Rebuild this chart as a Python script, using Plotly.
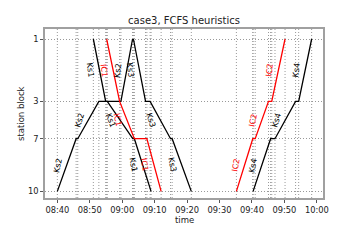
import math
import pandas as pd
import plotly.graph_objects as go

# ---------------- data ----------------
station_blocks = [1, 3, 7, 10]
station_labels = ["1", "3", "7", "10"]
station_pos = [0.0, 6.24, 9.97, 15.24]   # relative distance along the line

x_tick_labels = ["08:40", "08:50", "09:00", "09:10", "09:20", "09:30", "09:40", "09:50", "10:00"]

# times in minutes after 08:00, with the station block visited at that time
ks1_t = [51.1, 54.9, 55.4, 63.25, 63.75, 68.9]
ks1_s = [1, 3, 3, 7, 7, 10]
ks2_t = [40.0, 45.8, 46.3, 52.8, 59.6, 63.2]
ks2_s = [10, 7, 7, 3, 3, 1]
ks3_t = [63.45, 67.2, 68.6, 74.9, 75.4, 81.3]
ks3_s = [1, 3, 3, 7, 7, 10]
ks4_t = [100.35, 105.75, 107.1, 113.45, 114.4, 118.4]
ks4_s = [10, 7, 7, 3, 3, 1]
ic1_t = [55.2, 59.2, 63.75, 67.6, 72.0]
ic1_s = [1, 3, 7, 7, 10]
ic2_t = [95.2, 100.25, 101.0, 105.1, 106.1, 110.2]
ic2_s = [10, 7, 7, 3, 3, 1]

trains = [
    ("Ks2", ks2_t, ks2_s, "black"),
    ("Ks1", ks1_t, ks1_s, "black"),
    ("IC1", ic1_t, ic1_s, "red"),
    ("Ks3", ks3_t, ks3_s, "black"),
    ("IC2", ic2_t, ic2_s, "red"),
    ("Ks4", ks4_t, ks4_s, "black"),
]

# ---------------- layout geometry ----------------
W, H = 360, 240
ml, mr, mt, mb = 45, 37, 29, 42
pw, ph = W - ml - mr, H - mt - mb
x_min, x_max = 36.2, 121.9          # minutes after 08:00
y_top, y_bot = -1.0, 15.9

base = pd.Timestamp("2021-01-01 08:00:00")
def to_dt(m):
    return base + pd.Timedelta(minutes=m)

pos_of = dict(zip(station_blocks, station_pos))
FONT = "DejaVu Sans"
DOT = "1px,2px"

fig = go.Figure()

# vertical dotted lines at every event time
event_times = sorted(set(t for _, ts, _, _ in trains for t in ts))
shapes = []
for t in event_times:
    shapes.append(dict(type="line", xref="x", yref="paper", x0=to_dt(t), x1=to_dt(t),
                       y0=0, y1=1, layer="below",
                       line=dict(color="#999999", width=1, dash=DOT)))

annotations = []
for name, ts, ss, col in trains:
    ys = [pos_of[s] for s in ss]
    fig.add_trace(go.Scatter(x=[to_dt(t) for t in ts], y=ys, mode="lines",
                             line=dict(color=col, width=1.3), showlegend=False,
                             hoverinfo="skip"))
    for i in range(len(ts) - 1):
        if ss[i] == ss[i + 1]:
            continue
        tm = (ts[i] + ts[i + 1]) / 2
        ym = (ys[i] + ys[i + 1]) / 2
        dx = (ts[i + 1] - ts[i]) * pw / (x_max - x_min)
        dy = (ys[i + 1] - ys[i]) * ph / (y_bot - y_top)
        ang = math.degrees(math.atan2(dy, dx))
        ang = math.copysign(abs(ang) + (90 - abs(ang)) * 0.4, ang)
        annotations.append(dict(x=to_dt(tm), y=ym, xref="x", yref="y", text=name,
                                showarrow=False, textangle=ang, xshift=-9,
                                font=dict(family=FONT, size=8, color=col)))

# axis titles
annotations.append(dict(text="time", x=0.5, y=-(219.5 - (mt + ph)) / ph, xref="paper", yref="paper",
                        showarrow=False, yanchor="middle",
                        font=dict(family=FONT, size=8.5, color="#222")))
annotations.append(dict(text="station block", x=(20.5 - ml) / pw, y=0.5, xref="paper", yref="paper",
                        showarrow=False, textangle=-90, xanchor="center",
                        font=dict(family=FONT, size=8.5, color="#222")))

tick_vals = [to_dt(40 + 10 * i) for i in range(len(x_tick_labels))]

fig.update_layout(
    width=W, height=H,
    margin=dict(l=ml, r=mr, t=mt, b=mb),
    paper_bgcolor="white", plot_bgcolor="white",
    title=dict(text="case3, FCFS heuristics", x=(ml + pw / 2) / W, xanchor="center",
               y=1 - 20 / H, yanchor="middle", yref="container",
               font=dict(family=FONT, size=10, color="#222")),
    shapes=shapes,
    annotations=annotations,
    xaxis=dict(type="date", range=[to_dt(x_min), to_dt(x_max)],
               tickvals=tick_vals, ticktext=x_tick_labels,
               showgrid=False, zeroline=False,
               showline=True, linecolor="#a0a0a0", linewidth=1.5, mirror=True,
               ticks="outside", ticklen=3, tickcolor="#555", tickwidth=1,
               tickfont=dict(family=FONT, size=8.3, color="#222")),
    yaxis=dict(range=[y_bot, y_top], tickvals=station_pos, ticktext=station_labels,
               showgrid=True, gridcolor="#999999", griddash=DOT, gridwidth=1,
               zeroline=False,
               showline=True, linecolor="#a0a0a0", linewidth=1.5, mirror=True,
               ticks="outside", ticklen=3, tickcolor="#555", tickwidth=1,
               tickfont=dict(family=FONT, size=8.3, color="#222")),
)

fig.write_html("out.html", config={"displayModeBar": False},
               post_script="document.body.style.margin='0';")
